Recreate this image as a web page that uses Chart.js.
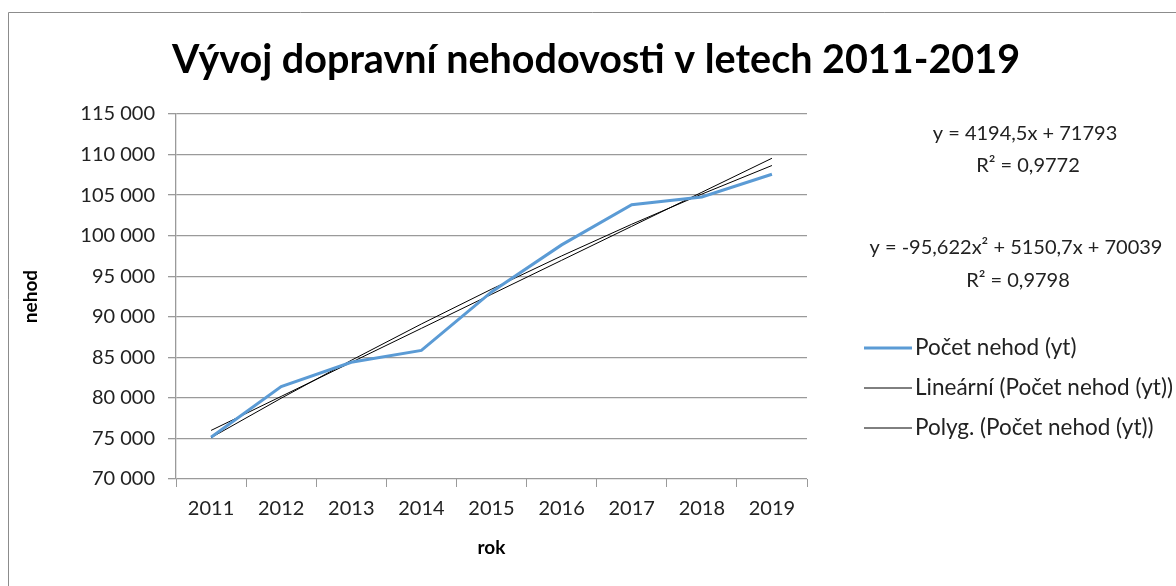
<!DOCTYPE html>
<html>
<head>
<meta charset="utf-8">
<script src="https://cdn.jsdelivr.net/npm/chart.js@4.4.1/dist/chart.umd.min.js"></script>
<style>
  html, body { margin: 0; padding: 0; background: #fff; }
</style>
</head>
<body>
<canvas id="grafNehody" width="1176" height="586"></canvas>
<script>
// data
const roky = ['2011', '2012', '2013', '2014', '2015', '2016', '2017', '2018', '2019'];
const pocetNehod = [75137, 81404, 84398, 85859, 93067, 98864, 103821, 104764, 107572];
const linearniTrend = [75988, 80182, 84377, 88571, 92766, 96960, 101155, 105349, 109544];
const polygTrend = [75094, 79958, 84631, 89112, 93402, 97501, 101408, 105125, 108650];
const rovnice = [
    ['y = 4194,5x + 71793', 'R² = 0,9772'],
    ['y = -95,622x² + 5150,7x + 70039', 'R² = 0,9798']
];

const pismo = 'Lato, "Open Sans", sans-serif';
const seda = '#9a9a9a';

function formatCisla(v) {
    return String(v).replace(/\B(?=(\d{3})+(?!\d))/g, ' ');
}

// rámeček, nadpis, rovnice a legenda kreslené ručně
const doplnky = {
    id: 'doplnky',
    beforeDraw(chart) {
        const ctx = chart.ctx;
        ctx.save();
        ctx.strokeStyle = '#8c8c8c';
        ctx.lineWidth = 1;
        ctx.beginPath();
        ctx.moveTo(8.5, 600);
        ctx.lineTo(8.5, 12.5);
        ctx.lineTo(1200, 12.5);
        ctx.stroke();
        ctx.restore();
    },
    afterDraw(chart) {
        const ctx = chart.ctx;
        ctx.save();
        ctx.fillStyle = '#000';
        ctx.textAlign = 'center';
        ctx.textBaseline = 'alphabetic';
        ctx.font = 'bold 39.5px ' + pismo;
        ctx.fillText('Vývoj dopravní nehodovosti v letech 2011-2019', 596, 73);

        ctx.font = '20px ' + pismo;
        ctx.textBaseline = 'middle';
        ctx.fillStyle = '#222';
        ctx.fillText(rovnice[0][0], 1025, 134);
        ctx.fillText(rovnice[0][1], 1028, 166);
        ctx.fillText(rovnice[1][0], 1016, 248);
        ctx.fillText(rovnice[1][1], 1018, 281);

        const radky = [348, 388, 428];
        ctx.textAlign = 'left';
        ctx.font = '22.5px ' + pismo;
        chart.data.datasets.forEach((ds, i) => {
            ctx.strokeStyle = ds.borderColor;
            ctx.lineWidth = ds.borderWidth;
            ctx.beginPath();
            ctx.moveTo(864, radky[i]);
            ctx.lineTo(912, radky[i]);
            ctx.stroke();
            ctx.fillText(ds.label, 915, radky[i]);
        });
        ctx.restore();
    }
};

new Chart(document.getElementById('grafNehody').getContext('2d'), {
    type: 'line',
    data: {
        labels: roky,
        datasets: [
            { label: 'Počet nehod (yt)', data: pocetNehod, borderColor: '#5b9bd5', borderWidth: 3, pointRadius: 0, tension: 0 },
            { label: 'Lineární (Počet nehod (yt))', data: linearniTrend, borderColor: '#000', borderWidth: 1, pointRadius: 0 },
            { label: 'Polyg. (Počet nehod (yt))', data: polygTrend, borderColor: '#000', borderWidth: 1, pointRadius: 0 }
        ]
    },
    options: {
        responsive: false,
        animation: false,
        devicePixelRatio: 1,
        layout: { padding: { left: 0, top: 114, right: 369, bottom: 0 } },
        plugins: { legend: { display: false }, title: { display: false }, tooltip: { enabled: false } },
        scales: {
            x: {
                offset: true,
                grid: { offset: true, drawOnChartArea: false, drawTicks: true, tickLength: 8, color: seda },
                border: { display: false },
                ticks: { color: '#222', font: { family: pismo, size: 20 }, padding: 10, maxRotation: 0 },
                title: { display: true, text: 'rok', color: '#000', font: { family: pismo, size: 19, weight: 'bold' }, padding: { top: 0, bottom: 27 } },
                afterFit(s) { s.height = 107; }
            },
            y: {
                min: 70000,
                max: 115000,
                grid: { color: seda, tickLength: 8, lineWidth: 1.3 },
                border: { color: seda, width: 1.3 },
                ticks: { stepSize: 5000, color: '#222', font: { family: pismo, size: 20 }, padding: 13, callback: v => formatCisla(v) },
                title: { display: true, text: 'nehod', color: '#000', font: { family: pismo, size: 19, weight: 'bold' }, padding: { top: 19, bottom: 0 } },
                afterFit(s) { s.width = 176; }
            }
        }
    },
    plugins: [doplnky]
});
</script>
</body>
</html>
